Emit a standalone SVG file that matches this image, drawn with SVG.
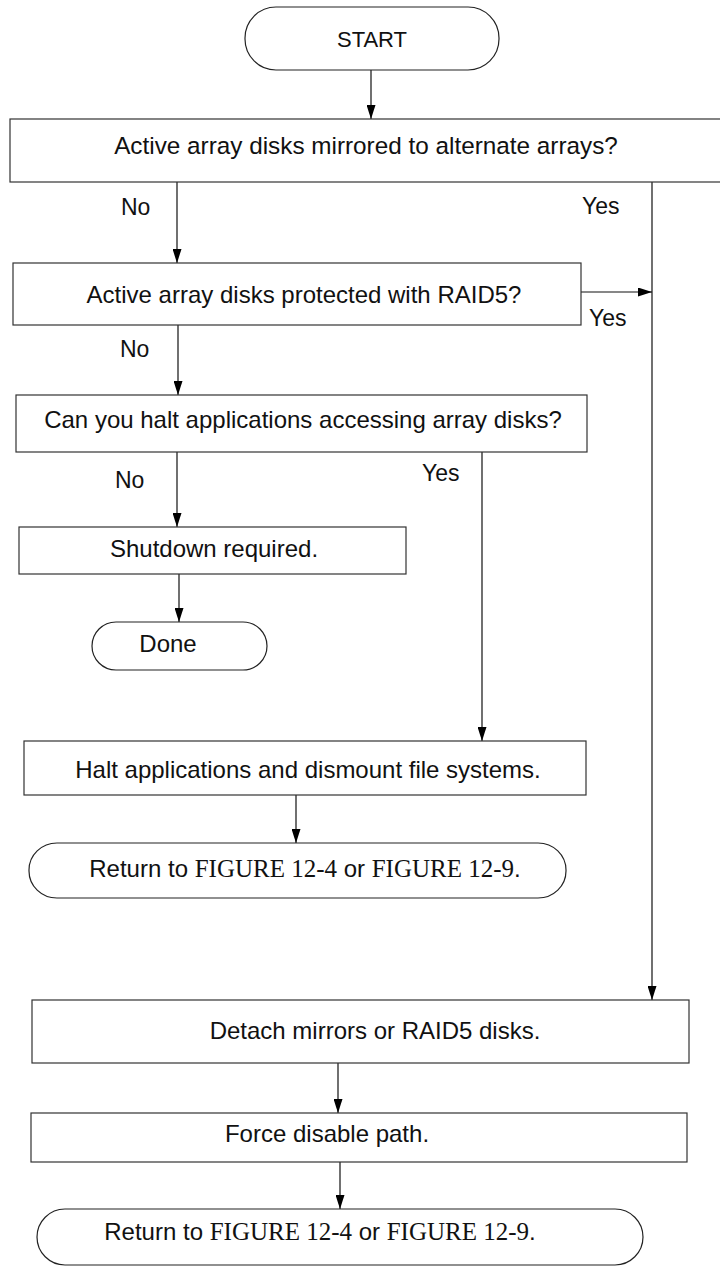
<svg xmlns="http://www.w3.org/2000/svg" width="720" height="1270" viewBox="0 0 720 1270">
  <style>
    .box { fill: #ffffff; stroke: #333333; stroke-width: 1.2; }
    .term { fill: #ffffff; stroke: #222222; stroke-width: 1.2; }
    .t { font-family: "Liberation Sans", Arial, sans-serif; font-size: 24px; fill: #111111; text-anchor: middle; }
    .lbl { font-family: "Liberation Sans", Arial, sans-serif; font-size: 23px; fill: #111111; }
    .serif { font-family: "Liberation Serif", "Times New Roman", serif; font-size: 25px; }
    .edge { fill: none; stroke: #111111; stroke-width: 1.2; }
  </style>
  <defs>
    <marker id="arrow" markerUnits="userSpaceOnUse" markerWidth="14" markerHeight="9" refX="14" refY="4.5" orient="auto">
      <path d="M0,0 L14,4.5 L0,9 z" fill="#000000"/>
    </marker>
  </defs>
  <rect width="720" height="1270" fill="#ffffff"/>

  <!-- connectors and branch labels -->
  <g id="connectors">
    <line class="edge" x1="371" y1="70" x2="371" y2="119" marker-end="url(#arrow)"/>
    <line class="edge" x1="177" y1="182" x2="177" y2="263" marker-end="url(#arrow)"/>
    <line class="edge" x1="652" y1="182" x2="652" y2="1000" marker-end="url(#arrow)"/>
    <line class="edge" x1="581" y1="292" x2="652" y2="292" marker-end="url(#arrow)"/>
    <line class="edge" x1="178" y1="325" x2="178" y2="395" marker-end="url(#arrow)"/>
    <line class="edge" x1="177" y1="452" x2="177" y2="527" marker-end="url(#arrow)"/>
    <line class="edge" x1="482" y1="452" x2="482" y2="741" marker-end="url(#arrow)"/>
    <line class="edge" x1="179" y1="574" x2="179" y2="622" marker-end="url(#arrow)"/>
    <line class="edge" x1="296" y1="795" x2="296" y2="843" marker-end="url(#arrow)"/>
    <line class="edge" x1="338" y1="1063" x2="338" y2="1113" marker-end="url(#arrow)"/>
    <line class="edge" x1="340" y1="1162" x2="340" y2="1209" marker-end="url(#arrow)"/>
    <text class="lbl" x="121" y="215">No</text>
    <text class="lbl" x="582" y="214">Yes</text>
    <text class="lbl" x="589" y="326">Yes</text>
    <text class="lbl" x="120" y="357">No</text>
    <text class="lbl" x="115" y="488">No</text>
    <text class="lbl" x="422" y="481">Yes</text>
  </g>

  <g id="start">
    <rect class="term" x="245" y="7" width="254" height="63" rx="31" ry="31"/>
    <text class="t" x="372" y="47" style="font-size:22px">START</text>
  </g>

  <g id="q-mirrored">
    <rect class="box" x="10" y="119" width="720" height="63"/>
    <text class="t" x="366" y="154" style="font-size:24.3px">Active array disks mirrored to alternate arrays?</text>
  </g>

  <g id="q-raid5">
    <rect class="box" x="13" y="263" width="568" height="62"/>
    <text class="t" x="304" y="303">Active array disks protected with RAID5?</text>
  </g>

  <g id="q-halt">
    <rect class="box" x="16" y="395" width="571" height="57"/>
    <text class="t" x="303" y="428">Can you halt applications accessing array disks?</text>
  </g>

  <g id="shutdown">
    <rect class="box" x="19" y="527" width="387" height="47"/>
    <text class="t" x="214" y="557">Shutdown required.</text>
  </g>

  <g id="done">
    <rect class="term" x="92" y="622" width="175" height="48" rx="24" ry="24"/>
    <text class="t" x="168" y="652">Done</text>
  </g>

  <g id="halt-apps">
    <rect class="box" x="24" y="741" width="562" height="54"/>
    <text class="t" x="308" y="778">Halt applications and dismount file systems.</text>
  </g>

  <g id="return-1">
    <rect class="term" x="29" y="843" width="537" height="55" rx="28" ry="27"/>
    <text class="t" x="305" y="877">Return to <tspan class="serif">FIGURE 12-4</tspan> or <tspan class="serif">FIGURE 12-9</tspan>.</text>
  </g>

  <g id="detach">
    <rect class="box" x="32" y="1000" width="657" height="63"/>
    <text class="t" x="375" y="1039">Detach mirrors or RAID5 disks.</text>
  </g>

  <g id="force-disable">
    <rect class="box" x="31" y="1113" width="656" height="49"/>
    <text class="t" x="327" y="1142">Force disable path.</text>
  </g>

  <g id="return-2">
    <rect class="term" x="37" y="1209" width="606" height="56" rx="28" ry="28"/>
    <text class="t" x="320" y="1240">Return to <tspan class="serif">FIGURE 12-4</tspan> or <tspan class="serif">FIGURE 12-9</tspan>.</text>
  </g>
</svg>
